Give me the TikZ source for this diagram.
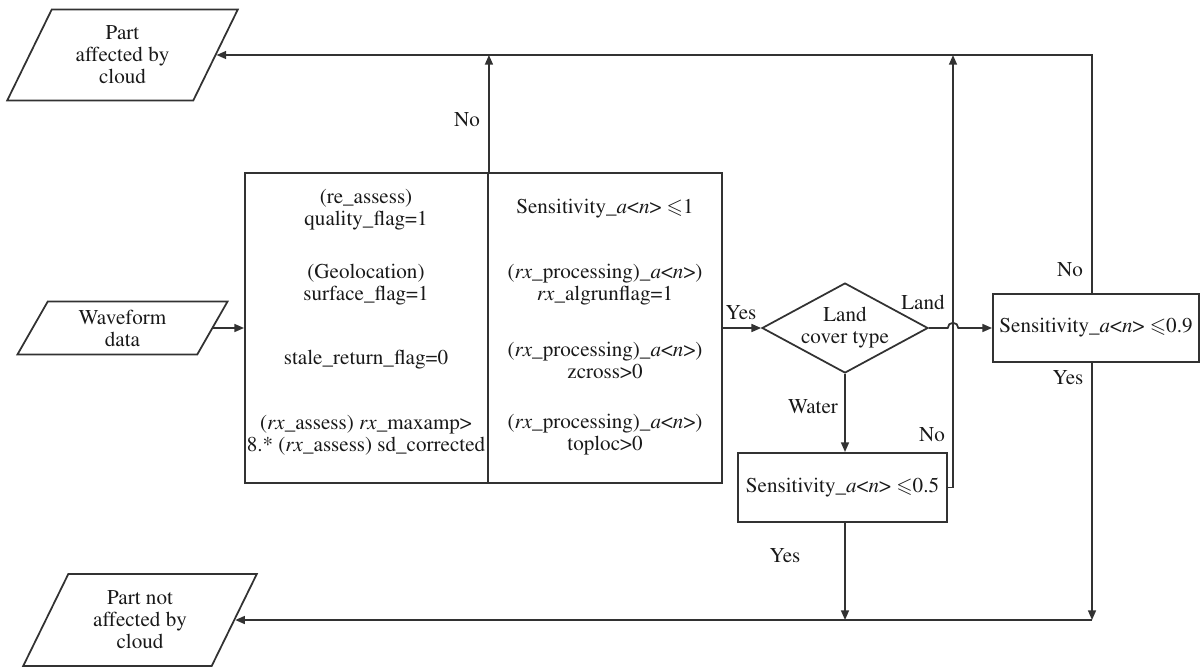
\documentclass[tikz,border=0pt]{standalone}
\usepackage[T1]{fontenc}
\usepackage{mathptmx}
\usepackage{amssymb}
\usetikzlibrary{shapes.geometric,arrows.meta}

\definecolor{linegray}{RGB}{50,50,50}
\definecolor{textgray}{RGB}{25,25,25}

\newcommand{\idx}{\textit{a}\textless\textit{n}\textgreater}
\newcommand{\rxv}{\textit{rx}}

\tikzset{
  flow/.style={draw=linegray, line width=1pt},
  io/.style={trapezium, trapezium stretches=true, trapezium left angle=63,
    trapezium right angle=117, draw=linegray, line width=1pt, align=center,
    inner sep=0pt, text=textgray},
  table/.style={rectangle, draw=linegray, line width=1.1pt, inner sep=0pt},
  decision/.style={diamond, draw=linegray, line width=1pt, aspect=1.84,
    inner sep=0pt, minimum width=3.32cm, minimum height=1.8cm, align=center,
    text=textgray},
  cond/.style={align=center, inner sep=0pt, text=textgray},
  lbl/.style={inner sep=1pt, text=textgray}
}

\begin{document}
\begin{tikzpicture}[x=0.02cm, y=-0.02cm, font=\fontsize{12}{12.5}\selectfont,
  >={Triangle[length=5.5pt,width=4.5pt]}]
  \useasboundingbox (0,0) rectangle (1203,667);

  % inputs and outputs
  \node[io, minimum width=4.62cm, minimum height=1.82cm] (cloud) at (122.5,55) {Part\\affected by\\cloud};
  \node[io, trapezium left angle=64, trapezium right angle=116,
    minimum width=4.22cm, minimum height=1.06cm] (wave) at (122.5,328) {Waveform\\data};
  \node[io, minimum width=4.68cm, minimum height=1.84cm] (clear) at (140,620) {Part not\\affected by\\cloud};

  % check table
  \node[table, minimum width=4.86cm, minimum height=6.2cm] (chk) at (366.5,328) {};
  \node[table, minimum width=4.68cm, minimum height=6.2cm] (sens) at (605,328) {};

  \node[cond] (c1) at (366,210) {(re\_assess)\\quality\_flag=1};
  \node[cond] (c2) at (366,285) {(Geolocation)\\surface\_flag=1};
  \node[cond] (c3) at (366,360) {stale\_return\_flag=0};
  \node[cond] (c4) at (366,435) {(\rxv\_assess) \rxv\_maxamp\textgreater\\8.* (\rxv\_assess) sd\_corrected};

  \node[cond] (s1) at (605,209) {Sensitivity\_\idx{} $\leqslant$1};
  \node[cond] (s2) at (605,285) {(\rxv\_processing)\_\idx)\\\rxv\_algrunflag=1};
  \node[cond] (s3) at (605,360) {(\rxv\_processing)\_\idx)\\zcross\textgreater0};
  \node[cond] (s4) at (605,435) {(\rxv\_processing)\_\idx)\\toploc\textgreater0};

  % land cover
  \node[decision] (type) at (845,328) {Land\\cover type};
  \node[table, minimum width=4.18cm, minimum height=1.38cm, text=textgray] (s05) at (842.5,487.5) {Sensitivity\_\idx{} $\leqslant$0.5};
  \node[table, minimum width=4.12cm, minimum height=1.36cm, text=textgray] (s09) at (1096,328) {Sensitivity\_\idx{} $\leqslant$0.9};

  \coordinate (topR) at (1092,55);
  \coordinate (topM) at (953,55);
  \coordinate (botR) at (1092,620);

  % connectors
  \draw[flow,->] (wave.east) -- (wave.east -| chk.west);
  \draw[flow,->] (chk.north east) -- (chk.north east |- topR);
  \draw[flow,->] (sens.east) -- (type.west);
  \draw[flow,->] (type.east) -- ([xshift=-3pt]topM |- type.east)
    arc[start angle=180, end angle=0, radius=3pt] -- (s09.west);
  \draw[flow,->] (type.south) -- (type.south |- s05.north);
  \draw[flow,->] (s05.east) -| (topM);
  \draw[flow,->] (s09.north -| topR) -- (topR) -- (cloud.east);
  \draw[flow,->] (s09.south -| botR) -- (botR);
  \draw[flow,->] (s05.south -| type.south) -- (botR -| type.south);
  \draw[flow] (botR) -- (botR -| type.south);
  \draw[flow,->] (botR -| type.south) -- (clear.east);

  % labels
  \node[lbl] (no1) at (467,120) {No};
  \node[lbl] (yes1) at (741,313) {Yes};
  \node[lbl] (land) at (923,302) {Land};
  \node[lbl] (water) at (813,407) {Water};
  \node[lbl] (no2) at (932,435) {No};
  \node[lbl] (no3) at (1070,270) {No};
  \node[lbl] (yes2) at (1068,378) {Yes};
  \node[lbl] (yes3) at (785,556) {Yes};
\end{tikzpicture}
\end{document}
